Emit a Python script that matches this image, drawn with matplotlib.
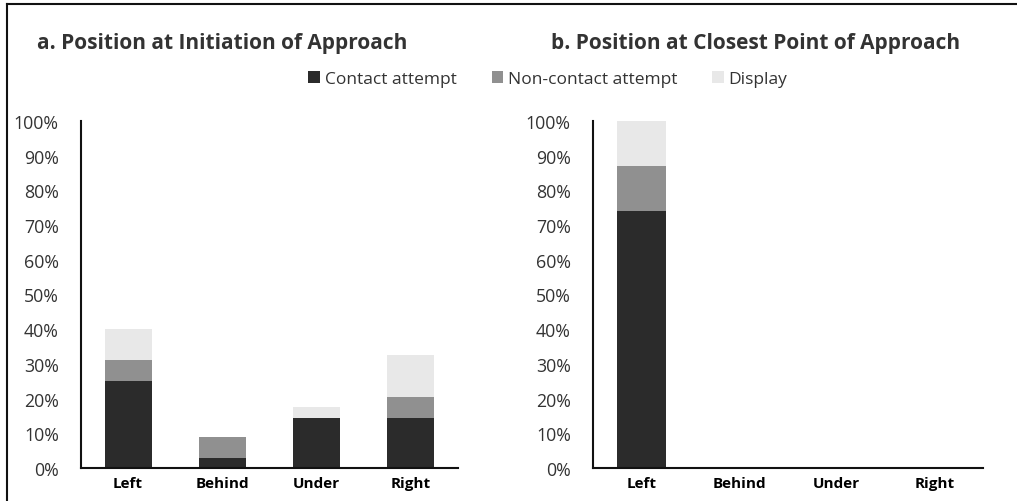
import numpy as np
import matplotlib.pyplot as plt
from matplotlib.lines import Line2D
from matplotlib.patches import Patch

plt.rcParams['font.family'] = ['Open Sans', 'DejaVu Sans']

# Data (percent of approaches)
categories = ['Left', 'Behind', 'Under', 'Right']
series = ['Contact attempt', 'Non-contact attempt', 'Display']
colors = ['#2b2b2b', '#909090', '#e8e8e8']

# a. Position at initiation of approach
init_contact = [25, 3, 14.5, 14.5]
init_noncontact = [6, 6, 0, 6]
init_display = [9, 0, 3, 12]

# b. Position at closest point of approach
close_contact = [74, 0, 0, 0]
close_noncontact = [13, 0, 0, 0]
close_display = [13, 0, 0, 0]

W, H = 1017, 502
fig = plt.figure(figsize=(W / 100, H / 100), dpi=100)
txt = '#333333'


def draw(ax, stacks):
    x = np.arange(len(categories))
    bottom = np.zeros(len(categories))
    for vals, c in zip(stacks, colors):
        ax.bar(x, vals, 0.5, bottom=bottom, color=c, linewidth=0)
        bottom += np.array(vals)
    ax.set_xlim(-0.5, len(categories) - 0.5)
    ax.set_ylim(0, 100)
    ax.set_yticks(np.arange(0, 101, 10))
    ax.set_yticklabels([f'{v}%' for v in range(0, 101, 10)], color=txt, fontsize=12.8)
    ax.set_xticks(x)
    ax.set_xticklabels(categories, fontweight='bold', fontsize=11, color='black')
    ax.tick_params(axis='both', length=0)
    ax.tick_params(axis='y', pad=16)
    ax.tick_params(axis='x', pad=6)
    for s in ['top', 'right']:
        ax.spines[s].set_visible(False)
    for s in ['left', 'bottom']:
        ax.spines[s].set_linewidth(1.5)
        ax.spines[s].set_color('#111111')


ax1 = fig.add_axes([81 / W, 1 - 469 / H, (458 - 81) / W, (469 - 122) / H])
draw(ax1, [init_contact, init_noncontact, init_display])
ax2 = fig.add_axes([593 / W, 1 - 469 / H, (983 - 593) / W, (469 - 122) / H])
draw(ax2, [close_contact, close_noncontact, close_display])

fig.text(37 / W, 1 - 43 / H, 'a. Position at Initiation of Approach', fontsize=15,
         fontweight='bold', color=txt, va='center', ha='left')
fig.text(551 / W, 1 - 43 / H, 'b. Position at Closest Point of Approach', fontsize=15,
         fontweight='bold', color=txt, va='center', ha='left')

handles = [Patch(facecolor=c, edgecolor='none') for c in colors]
leg = fig.legend(handles, series, loc='center', bbox_to_anchor=(548 / W, 1 - 80 / H),
                 ncol=3, frameon=False, fontsize=12.5, handlelength=0.65, handleheight=0.65,
                 handletextpad=0.3, columnspacing=2.0)
for t in leg.get_texts():
    t.set_color(txt)

# outer frame (top and left edges)
fig.add_artist(Line2D([6.5 / W, 6.5 / W], [0, 1 - 4.5 / H], color='#111111', lw=1.5,
                      transform=fig.transFigure))
fig.add_artist(Line2D([6.5 / W, 1], [1 - 4.5 / H, 1 - 4.5 / H], color='#111111', lw=1.5,
                      transform=fig.transFigure))

fig.savefig('out.png', dpi=100)
